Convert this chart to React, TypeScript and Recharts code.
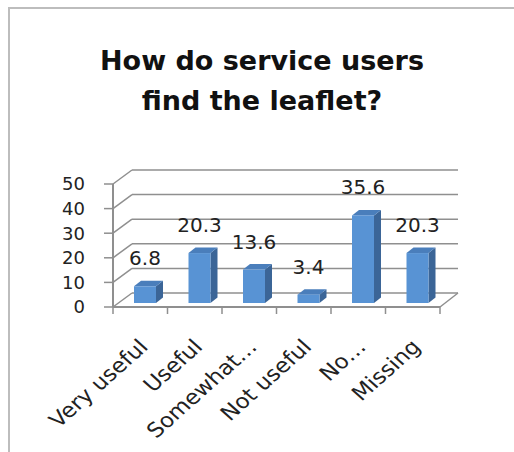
import React from 'react';
import { BarChart, Bar, XAxis, YAxis, CartesianGrid, LabelList } from 'recharts';

const categories = ['Very useful', 'Useful', 'Somewhat…', 'Not useful', 'No…', 'Missing'];
const percentages = [6.8, 20.3, 13.6, 3.4, 35.6, 20.3];
const yTicks = [0, 10, 20, 30, 40, 50];
const titleLines = ['How do service users', 'find the leaflet?'];

const data = categories.map((c, i) => ({ category: c, value: percentages[i] }));

const W = 514;
const H = 452;
const PLOT_LEFT = 113;
const PLOT_RIGHT = 440;
const PLOT_TOP = 184;
const PLOT_BOTTOM = 307;
const BAND = (PLOT_RIGHT - PLOT_LEFT) / categories.length;
const WALL_DX = 19;
const WALL_DY = 14;
const FACE_DX = 5;
const FACE_DY = 4;
const DEPTH_DX = 7;
const DEPTH_DY = 5.5;
const FONT = '"DejaVu Sans", sans-serif';
const GRID = '#8f8f8f';
const FRONT = '#5893D4';
const SIDE = '#3B6597';
const TOP = '#4A7EBB';

const gridLine = (props: any) => {
  const { x1, x2, y1, index } = props;
  const isFloor = Math.abs(y1 - PLOT_BOTTOM) < 0.5;
  return (
    <g key={`g-${index}-${y1}`}>
      <line x1={x1} y1={y1} x2={x1 + WALL_DX} y2={y1 - WALL_DY} stroke={GRID} strokeWidth={1.5} />
      <line x1={x1 + WALL_DX} y1={y1 - WALL_DY} x2={x2 + WALL_DX - 1} y2={y1 - WALL_DY} stroke={GRID} strokeWidth={1.5} />
      {isFloor && (
        <line x1={x2} y1={y1} x2={x2 + WALL_DX - 1} y2={y1 - WALL_DY} stroke={GRID} strokeWidth={1.5} />
      )}
    </g>
  );
};

const Bar3D = (p: any) => {
  const { x, y, width, height } = p;
  if (width == null || height == null) return <g />;
  const fx = x + FACE_DX;
  const fy = y - FACE_DY;
  const side = `${fx + width},${fy} ${fx + width + DEPTH_DX},${fy - DEPTH_DY} ${fx + width + DEPTH_DX},${fy + height - DEPTH_DY} ${fx + width},${fy + height}`;
  const top = `${fx},${fy} ${fx + DEPTH_DX},${fy - DEPTH_DY} ${fx + width + DEPTH_DX},${fy - DEPTH_DY} ${fx + width},${fy}`;
  return (
    <g>
      <polygon points={side} fill={SIDE} />
      <polygon points={top} fill={TOP} />
      <rect x={fx} y={fy} width={width} height={height} fill={FRONT} />
    </g>
  );
};

const renderValue = (props: any) => {
  const { x, y, width, value } = props;
  return (
    <text
      x={x + width / 2 + FACE_DX}
      y={y - 25}
      textAnchor="middle"
      fontSize={20}
      fontFamily={FONT}
      fill="#222"
    >
      {value}
    </text>
  );
};

const CategoryTick = (props: any) => {
  const { x, y, payload, index } = props;
  const left = x - BAND / 2;
  const right = x + BAND / 2;
  return (
    <g>
      <line x1={left} y1={y} x2={left} y2={y + 7} stroke={GRID} strokeWidth={1.5} />
      {index === categories.length - 1 && (
        <line x1={right} y1={y} x2={right} y2={y + 7} stroke={GRID} strokeWidth={1.5} />
      )}
      <text
        transform={`translate(${x + 9},${y + 41}) scale(1.12,1) rotate(-45)`}
        textAnchor="end"
        fontSize={20.5}
        fontFamily={FONT}
        fill="#222"
      >
        {payload.value}
      </text>
    </g>
  );
};

export default function App() {
  return (
    <div style={{ position: 'absolute', left: 0, top: 0, width: W, height: H, overflow: 'hidden', background: '#fff' }}>
      <div
        style={{
          position: 'absolute',
          left: 8,
          top: 7,
          width: 700,
          height: 700,
          borderLeft: '2px solid #bdbdbd',
          borderTop: '2px solid #bdbdbd',
        }}
      />
      <div
        style={{
          position: 'absolute',
          left: 0,
          top: 41,
          width: 524,
          textAlign: 'center',
          fontFamily: FONT,
          fontWeight: 'bold',
          fontSize: 27,
          lineHeight: '40px',
          color: '#111',
        }}
      >
        {titleLines.map((t) => (
          <div key={t}>{t}</div>
        ))}
      </div>
      <div style={{ position: 'absolute', left: 0, top: 0 }}>
        <BarChart
          width={W}
          height={H}
          data={data}
          margin={{ top: PLOT_TOP, right: W - PLOT_RIGHT, bottom: 0, left: 0 }}
          barSize={22}
        >
          <CartesianGrid vertical={false} horizontal={gridLine} />
          <XAxis
            dataKey="category"
            height={H - PLOT_BOTTOM}
            interval={0}
            axisLine={{ stroke: GRID, strokeWidth: 2 }}
            tickLine={false}
            tickSize={0}
            tickMargin={0}
            tick={<CategoryTick />}
          />
          <YAxis
            type="number"
            domain={[0, 50]}
            ticks={yTicks}
            interval={0}
            width={PLOT_LEFT}
            axisLine={{ stroke: GRID, strokeWidth: 2 }}
            tickLine={{ stroke: GRID, strokeWidth: 1.5 }}
            tickSize={9}
            tickMargin={19}
            tick={{ fontSize: 18, fontFamily: FONT, fill: '#222' }}
          />
          <Bar dataKey="value" isAnimationActive={false} shape={<Bar3D />}>
            <LabelList dataKey="value" content={renderValue} />
          </Bar>
        </BarChart>
      </div>
    </div>
  );
}
